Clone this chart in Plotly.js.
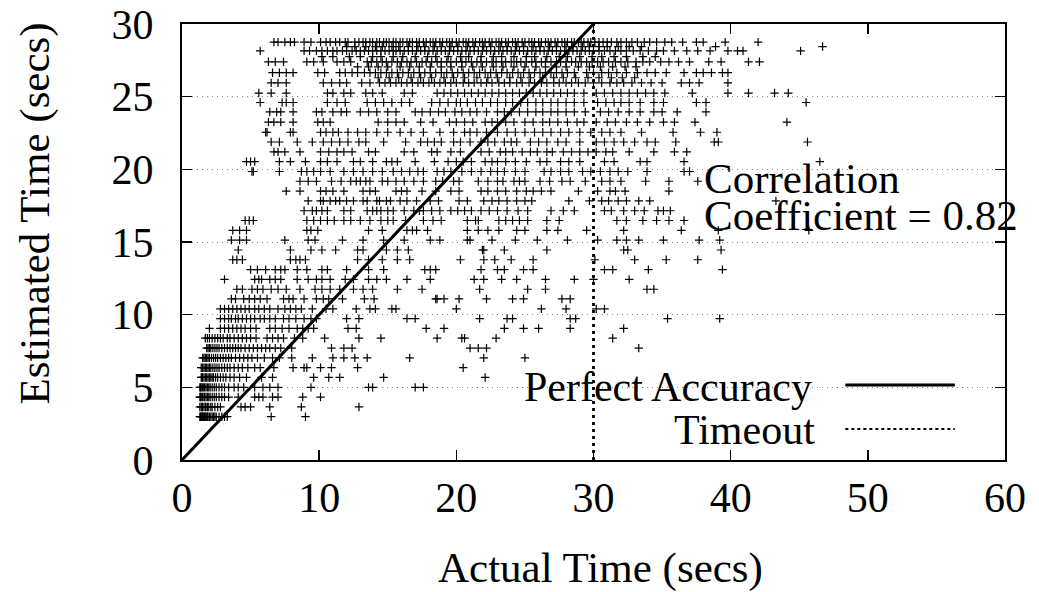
<!DOCTYPE html>
<html>
<head>
<meta charset="utf-8">
<script src="https://cdn.plot.ly/plotly-3.0.1.min.js"></script>
<style>
  html, body { margin: 0; padding: 0; background: #ffffff; }
  #chart { width: 1039px; height: 592px; }
</style>
</head>
<body>
<div id="chart"></div>
<script>
// Estimated run times (secs) come out on a discrete set of levels;
// each level lists the actual run times (secs) of the queries estimated at it.
const estimatedLevels = [
  2.98, 3.65, 4.33, 5.00, 5.68, 6.35, 7.03, 7.70, 8.38, 9.05,
  9.73, 10.40, 11.08, 11.75, 12.43, 13.10, 13.78, 14.45, 15.13, 15.80,
  16.48, 17.15, 17.83, 18.50, 19.18, 19.85, 20.53, 21.20, 21.88, 22.55,
  23.25, 23.95, 24.60, 25.25, 25.95, 26.30, 26.65, 27.05, 27.40, 27.75,
  28.15, 28.45, 28.75
];

const actualAtLevel = [
  /* 2.98 */ [1.3,1.35,1.4,1.45,1.5,1.55,1.6,1.65,1.7,1.8,1.85,1.9,2.0,2.1,2.2,2.3,2.4,2.5,2.7,2.9,3.1,3.3,6.5,9.0],
  /* 3.65 */ [1.3,1.4,1.45,1.5,1.6,1.7,1.75,1.85,1.95,2.1,2.2,2.4,2.6,2.8,4.3,4.6,5.0,6.4,8.7,12.9],
  /* 4.33 */ [1.3,1.35,1.4,1.5,1.6,1.65,1.75,1.85,1.95,2.05,2.2,2.35,2.5,2.7,2.9,3.1,3.4,4.1,5.3,5.6,5.9,6.6,7.0,8.8,10.1],
  /* 5.00 */ [1.3,1.35,1.4,1.5,1.55,1.65,1.75,1.85,1.95,2.05,2.2,2.35,2.5,2.7,2.9,3.1,3.4,3.8,4.1,4.5,5.3,5.9,6.4,7.0,9.4,13.6,13.9,17.0,17.6],
  /* 5.68 */ [1.4,1.45,1.5,1.6,1.7,1.8,1.9,2.0,2.1,2.2,2.3,2.45,2.6,2.8,3.0,3.2,3.5,3.8,4.2,4.7,5.8,6.6,9.6,10.7,11.5,14.7,22.1],
  /* 6.35 */ [1.4,1.5,1.6,1.7,1.8,1.9,2.0,2.1,2.25,2.4,2.55,2.7,2.9,3.1,3.3,3.5,3.8,4.1,4.4,4.8,5.3,5.7,6.7,8.1,8.9,9.1,10.1,10.9,12.8,20.5],
  /* 7.03 */ [1.5,1.6,1.7,1.8,1.9,2.0,2.15,2.3,2.45,2.6,2.8,3.0,3.2,3.4,3.6,3.9,4.2,4.5,4.8,5.1,5.5,6.0,6.6,7.1,8.0,9.5,11.0,11.8,12.6,13.5,16.6,22.0,25.0],
  /* 7.70 */ [1.8,1.9,2.0,2.1,2.25,2.4,2.55,2.7,2.9,3.1,3.3,3.5,3.7,3.9,4.1,4.3,4.6,4.9,5.2,5.5,5.8,6.1,6.4,6.8,7.2,8.0,10.9,11.8,12.4,21.0,21.6,22.2,33.3],
  /* 8.38 */ [1.7,1.85,2.0,2.2,2.4,2.6,2.8,3.0,3.3,3.5,3.8,4.1,4.4,4.7,5.0,5.4,6.2,6.6,7.0,7.4,8.2,8.8,10.4,12.9,14.5,18.6,20.4,20.6,22.9,31.4],
  /* 9.05 */ [2.0,2.8,3.1,3.4,3.7,4.0,4.3,4.6,5.0,5.4,6.4,6.8,7.3,7.8,8.4,8.8,9.2,9.6,12.1,12.7,17.8,19.1,23.5,24.9,26.0,28.3,32.2],
  /* 9.73 */ [2.8,3.1,3.4,3.6,3.9,4.1,4.4,4.7,5.0,5.3,5.7,6.0,6.4,6.8,7.4,7.8,8.3,8.9,9.4,9.8,12.0,12.9,16.4,17.0,21.7,23.7,24.1,28.3,28.7,35.4,39.2],
  /* 10.40 */ [2.8,3.1,3.4,3.7,4.0,4.3,4.6,4.9,5.3,5.6,6.0,6.4,7.0,7.5,7.9,8.3,8.7,9.5,10.5,11.0,12.7,13.7,14.1,15.3,15.6,20.0,26.2,28.0,30.2,30.8],
  /* 11.08 */ [3.6,3.9,4.5,4.9,5.3,5.7,6.2,7.4,7.8,8.1,8.9,9.8,10.3,10.7,11.7,13.3,14.0,18.5,18.6,19.1,20.2,22.2,24.1,24.9,27.7,28.3],
  /* 11.75 */ [4.0,4.4,5.1,5.5,5.9,6.5,7.0,7.6,8.6,9.7,10.2,10.8,11.5,12.5,13.2,13.9,15.7,17.5,21.7,25.2,26.5,33.9,34.4],
  /* 12.43 */ [3.1,5.3,5.6,5.8,6.4,6.8,7.2,8.4,9.2,9.8,10.2,10.8,11.9,12.5,13.6,14.2,14.9,16.4,18.1,21.3,22.0,23.3,24.4,26.5,28.6,30.0,32.6],
  /* 13.10 */ [5.0,5.5,6.1,6.8,7.2,7.5,8.4,9.1,10.2,10.6,12.0,13.6,14.7,17.7,18.1,18.5,21.8,23.0,23.5,24.9,25.6,30.8,31.4,34.0,39.4],
  /* 13.78 */ [3.7,4.0,4.4,7.9,8.3,8.6,9.0,12.8,13.6,14.6,15.7,16.6,20.3,22.0,22.8,24.0,25.6,30.1,33.0,35.3,37.6],
  /* 14.45 */ [4.1,7.9,9.4,10.2,11.2,12.8,13.2,14.9,15.7,16.5,21.9,22.0,23.5,26.6,32.2,32.5,39.3],
  /* 15.13 */ [3.6,4.2,4.7,7.5,9.2,9.7,11.7,13.2,14.7,16.2,18.1,18.8,20.8,21.0,22.6,24.3,25.9,28.1,30.3,31.7,32.4,33.3,35.1,37.7,39.2],
  /* 15.80 */ [3.7,4.2,4.7,9.1,9.4,9.9,13.6,14.6,16.4,16.8,17.1,17.9,20.8,21.6,22.3,23.1,24.4,25.0,26.6,27.4,29.5,32.2,36.4,39.1,45.7],
  /* 16.48 */ [4.6,4.9,5.2,9.1,9.6,10.1,10.6,11.1,11.8,12.3,13.0,13.7,14.5,15.0,15.4,16.3,17.6,18.3,18.9,20.8,21.4,21.6,23.1,23.6,24.1,24.6,25.2,26.6,27.5,31.7,32.4,33.6,34.6,35.5,36.6],
  /* 17.15 */ [8.9,9.5,9.8,10.2,10.6,11.8,12.3,13.5,13.9,14.2,14.5,15.0,15.4,16.2,16.9,17.3,17.6,18.2,18.8,19.6,20.1,20.6,21.1,21.8,22.4,23.0,23.7,24.5,25.2,26.9,27.8,28.6,30.8,31.3,32.2,33.0,33.7,34.7,35.1,35.6],
  /* 17.83 */ [9.2,10.1,10.3,10.8,11.2,11.5,12.0,12.5,13.2,13.5,14.2,14.4,14.9,15.2,15.9,16.4,17.1,18.1,18.7,20.2,20.8,22.0,22.6,23.1,23.7,24.4,25.0,25.5,28.2,29.7,30.6,31.1,31.8,32.4,33.3,34.1,43.3],
  /* 18.50 */ [7.6,8.6,10.1,10.5,11.0,11.8,13.2,13.7,14.1,15.6,16.0,16.4,17.5,18.5,19.6,20.2,21.8,22.3,23.0,23.6,24.4,25.1,25.6,26.2,26.9,28.9,30.3,31.2,31.6,32.3,35.5],
  /* 19.18 */ [8.6,9.2,9.8,10.9,11.6,12.3,12.7,13.0,13.4,13.7,14.6,15.0,15.6,16.2,16.9,17.6,18.5,19.0,19.8,20.2,21.6,22.3,23.0,23.4,24.2,24.6,25.0,26.1,26.8,27.7,28.3,29.4,30.6,31.2,32.0,33.8,35.5,37.6],
  /* 19.85 */ [5.1,5.2,7.1,8.7,9.1,9.6,10.1,10.8,11.8,12.5,13.2,13.9,14.6,15.4,16.0,16.6,17.2,17.6,18.6,19.1,19.6,20.4,21.1,21.8,22.5,23.0,23.5,24.3,25.0,26.4,26.9,27.6,28.2,29.2,29.8,30.5,31.2,31.8,32.5,33.9,36.6,37.0],
  /* 20.53 */ [4.7,5.0,5.3,7.1,7.9,9.0,10.1,10.6,11.3,12.5,13.0,13.9,14.9,15.3,15.7,17.0,18.4,19.4,20.0,20.5,21.1,22.1,22.6,23.0,23.6,24.3,25.1,26.1,26.6,27.6,28.2,29.0,30.8,31.5,33.4,33.9,36.6,46.5],
  /* 21.20 */ [6.7,7.0,7.5,8.6,10.1,10.7,11.3,11.8,12.4,13.6,14.1,16.2,16.9,18.2,18.6,19.6,20.3,21.8,22.4,23.2,23.6,24.1,24.8,25.4,25.9,26.6,27.0,27.8,28.4,29.0,29.6,30.2,30.9,31.4,32.6,34.4,35.9,36.8],
  /* 21.88 */ [6.5,7.1,8.4,9.5,10.3,10.9,11.5,12.1,12.9,13.4,14.7,16.3,17.4,17.9,18.4,18.9,19.8,20.3,21.0,21.8,22.3,22.8,23.5,24.0,24.4,25.4,26.0,26.6,27.4,28.0,29.0,30.2,30.8,31.5,32.2,33.0,33.9,34.5,36.0,38.8,39.1,45.6],
  /* 22.55 */ [6.1,6.2,7.9,8.1,10.1,10.5,11.0,11.4,12.1,12.8,13.4,14.2,15.0,15.9,16.7,17.6,18.8,19.8,20.6,21.0,21.5,22.2,23.0,23.7,24.3,25.0,25.7,26.3,26.9,27.6,28.2,29.0,29.8,30.6,31.2,32.0,33.5,35.8,37.8,39.0],
  /* 23.25 */ [6.3,6.7,7.2,8.1,9.9,10.3,10.8,14.3,15.0,15.6,16.2,17.4,18.3,19.5,20.0,20.6,21.2,22.1,22.6,23.0,23.6,24.2,25.0,25.6,26.3,26.8,27.4,28.1,28.8,29.3,30.2,31.0,31.6,32.4,33.2,34.1,35.1,35.9,37.4,44.1],
  /* 23.95 */ [6.4,6.9,7.2,8.1,9.8,10.2,11.0,11.6,12.0,13.0,13.6,14.2,15.0,15.6,17.0,17.5,18.1,18.7,19.2,19.9,20.4,21.0,21.5,22.2,23.0,23.5,24.0,24.6,25.2,25.8,26.3,26.9,27.4,28.0,28.6,29.4,30.5,31.1,31.8,32.6,33.4,34.4,35.0,36.1,38.2],
  /* 24.60 */ [5.7,7.3,7.6,8.1,10.6,11.3,11.9,13.5,14.1,14.7,15.3,16.0,16.6,18.2,18.8,19.4,20.0,20.3,20.8,21.4,21.9,22.5,23.0,23.6,24.1,24.7,25.2,25.8,26.3,26.9,27.4,28.0,28.6,29.3,30.3,30.9,31.5,32.0,32.6,33.4,34.4,35.1,37.5,38.2,45.5],
  /* 25.25 */ [5.6,6.5,7.6,10.6,11.0,11.8,12.3,13.4,13.9,14.6,16.2,16.8,18.6,19.1,19.6,20.1,20.6,21.1,21.6,22.1,22.6,23.1,23.6,24.1,24.6,25.1,25.6,26.1,26.6,27.1,27.6,28.1,28.6,29.3,30.2,30.8,31.4,32.0,32.6,33.2,33.8,34.4,35.2,37.2,39.8,41.3,43.2,44.2],
  /* 25.95 */ [6.5,7.0,7.6,10.3,10.9,11.5,12.0,13.1,13.7,14.4,14.8,15.2,15.6,16.0,16.4,16.8,17.2,17.6,18.0,18.4,18.8,19.2,19.6,20.0,20.5,20.9,21.3,21.8,22.2,22.6,23.1,23.5,23.9,24.4,24.8,25.3,25.7,26.2,26.6,27.1,27.5,28.0,28.4,28.9,29.4,30.0,30.6,31.2,31.7,32.2,32.8,33.5,34.2,35.0,36.4,37.0,37.7,39.8],
  /* 26.30 */ [14.3,15.1,15.8,16.7,17.4,18.2,19.1,19.8,20.6,21.5,22.3,23.0,23.9,24.7,25.4,26.3,27.1,27.8,28.7,29.6,30.4,31.3,32.1,33.0],
  /* 26.65 */ [6.6,7.1,7.6,8.1,9.9,10.4,11.5,11.9,12.4,12.8,13.3,13.7,14.1,14.5,14.9,15.3,15.7,16.1,16.5,16.9,17.3,17.7,18.1,18.5,18.9,19.3,19.7,20.1,20.5,20.9,21.3,21.7,22.1,22.5,22.9,23.3,23.7,24.1,24.5,24.9,25.3,25.7,26.1,26.5,26.9,27.3,27.7,28.1,28.6,29.5,30.0,30.6,31.1,31.7,32.4,33.2,33.9,34.5,35.3,36.6,37.5,38.0,38.6,39.4,39.8],
  /* 27.05 */ [12.8,13.6,14.3,15.0,15.9,16.6,17.3,18.1,18.9,19.6,20.4,21.2,21.9,22.7,23.4,24.2,25.0,25.8,26.5,27.3,28.0,28.9,29.7,30.5,31.4,32.3,33.1],
  /* 27.40 */ [6.3,6.8,7.4,9.1,9.6,10.3,11.3,11.8,12.3,13.5,13.8,14.2,14.6,14.9,15.3,15.7,16.0,16.4,16.7,17.1,17.5,17.8,18.2,18.6,18.9,19.3,19.6,20.0,20.4,20.7,21.1,21.5,21.8,22.2,22.6,22.9,23.3,23.6,24.0,24.4,24.7,25.1,25.5,25.8,26.2,26.5,26.9,27.3,27.6,28.0,28.4,28.7,29.1,29.5,29.9,30.3,30.7,31.1,31.6,32.0,32.5,33.1,33.6,34.1,34.9,35.5,36.2,37.0,38.4,39.3,41.3,42.1],
  /* 27.75 */ [10.2,11.0,12.2,13.0,13.9,14.5,15.4,16.1,17.0,17.9,18.5,19.4,20.3,20.9,21.8,22.7,23.3,24.2,25.1,25.7,26.6,27.5,28.1,29.0,29.9,30.6,31.5,32.4,33.6,34.5],
  /* 28.15 */ [5.7,8.9,9.3,9.8,10.2,10.6,11.0,11.3,11.7,12.0,12.4,12.7,13.0,13.3,13.6,13.9,14.2,14.5,14.8,15.1,15.4,15.6,15.9,16.2,16.5,16.8,17.1,17.4,17.7,18.0,18.3,18.6,18.9,19.2,19.5,19.8,20.1,20.4,20.7,21.0,21.3,21.6,21.9,22.2,22.5,22.8,23.1,23.4,23.7,24.0,24.3,24.6,24.9,25.2,25.5,25.8,26.1,26.4,26.7,27.0,27.3,27.6,27.9,28.2,28.5,28.8,29.1,29.4,29.7,30.0,30.4,30.8,31.2,31.6,32.0,32.4,32.9,33.4,34.0,34.6,35.1,35.9,36.8,37.6,38.5,39.8,40.5,40.9,45.1],
  /* 28.45 */ [12.0,12.6,13.4,14.1,14.6,15.3,15.8,16.5,17.2,17.7,18.4,18.9,19.6,20.1,20.8,21.3,22.0,22.5,23.2,23.7,24.4,24.9,25.6,26.1,26.8,27.3,28.0,28.5,29.2,29.7,30.4,31.0,31.8,32.6,33.5,38.9,46.7],
  /* 28.75 */ [6.7,7.0,7.5,7.9,8.2,8.9,9.4,10.1,10.5,10.8,11.2,11.5,11.9,12.1,12.6,12.9,13.2,13.4,13.7,13.9,14.2,14.4,14.7,14.9,15.1,15.4,15.6,15.9,16.1,16.4,16.6,16.8,17.1,17.3,17.6,17.8,18.1,18.3,18.5,18.8,19.0,19.3,19.5,19.7,20.0,20.2,20.5,20.7,20.9,21.2,21.4,21.7,21.9,22.1,22.4,22.6,22.9,23.1,23.3,23.6,23.8,24.1,24.3,24.5,24.8,25.0,25.3,25.5,25.7,26.0,26.2,26.5,26.7,26.9,27.2,27.4,27.7,27.9,28.1,28.4,28.6,28.9,29.1,29.3,29.6,29.8,30.1,30.4,30.7,31.0,31.3,31.7,32.0,32.4,32.8,33.2,33.7,34.1,34.6,35.2,35.7,36.5,37.5,38.0,39.6,42.0]
];

const xTickValues = [0, 10, 20, 30, 40, 50, 60];
const yTickValues = [0, 5, 10, 15, 20, 25, 30];

// Reference lines: estimate equal to actual, and the 30 s timeout.
const perfectActual = [0, 30];
const perfectEstimated = [0, 30];
const timeoutActual = [30, 30];
const timeoutEstimated = [0, 30];

const correlationCoefficient = 0.82;

// Flatten the per-level lists into point coordinates.
const actualTimes = [];
const estimatedTimes = [];
estimatedLevels.forEach((level, i) => {
  actualAtLevel[i].forEach(a => {
    actualTimes.push(a);
    estimatedTimes.push(level);
  });
});

const FONT = '"Liberation Serif", "Times New Roman", Times, serif';

const traces = [
  {
    type: 'scatter',
    mode: 'markers',
    x: actualTimes,
    y: estimatedTimes,
    marker: {
      symbol: 'cross-thin-open',
      size: 6,
      color: '#000000',
      line: { color: '#000000', width: 1.2 }
    },
    hoverinfo: 'x+y',
    showlegend: false
  },
  {
    type: 'scatter',
    mode: 'lines',
    x: perfectActual,
    y: perfectEstimated,
    line: { color: '#000000', width: 3 },
    showlegend: false
  },
  {
    type: 'scatter',
    mode: 'lines',
    x: timeoutActual,
    y: timeoutEstimated,
    line: { color: '#000000', width: 2.8, dash: '3px,4px' },
    showlegend: false
  }
];

const layout = {
  width: 1039,
  height: 592,
  margin: { l: 182, r: 34, t: 24, b: 132 },
  paper_bgcolor: '#ffffff',
  plot_bgcolor: '#ffffff',
  font: { family: FONT, size: 42, color: '#000000' },
  showlegend: false,
  xaxis: {
    range: [0, 60],
    tickvals: xTickValues,
    ticktext: xTickValues.map(String),
    ticks: 'inside',
    ticklen: 10,
    tickwidth: 1.5,
    tickcolor: '#000000',
    showline: true,
    linewidth: 2,
    linecolor: '#000000',
    mirror: 'ticks',
    showgrid: false,
    zeroline: false,
    ticklabelstandoff: 0,
    tickfont: { family: FONT, size: 42, color: '#000000' }
  },
  yaxis: {
    range: [0, 30],
    tickvals: yTickValues,
    ticktext: yTickValues.map(String),
    ticks: 'inside',
    ticklen: 10,
    tickwidth: 1.5,
    tickcolor: '#000000',
    showline: true,
    linewidth: 2,
    linecolor: '#000000',
    mirror: 'ticks',
    showgrid: true,
    gridcolor: '#8a8a8a',
    gridwidth: 1,
    griddash: '1px,4px',
    zeroline: false,
    ticklabelstandoff: 18,
    tickfont: { family: FONT, size: 42, color: '#000000' }
  },
  annotations: [
    {
      xref: 'paper', yref: 'paper', x: 0.508, y: -0.247,
      text: 'Actual Time (secs)', showarrow: false,
      xanchor: 'center', yanchor: 'middle',
      font: { family: FONT, size: 43 }
    },
    {
      xref: 'paper', yref: 'paper', x: -0.178, y: 0.564,
      text: 'Estimated Time (secs)', showarrow: false, textangle: -90,
      xanchor: 'center', yanchor: 'middle',
      font: { family: FONT, size: 43 }
    },
    {
      xref: 'paper', yref: 'paper', x: 0.632, y: 0.645,
      text: 'Correlation', showarrow: false,
      xanchor: 'left', yanchor: 'middle',
      font: { family: FONT, size: 43 }
    },
    {
      xref: 'paper', yref: 'paper', x: 0.632, y: 0.560,
      text: 'Coefficient = ' + correlationCoefficient.toFixed(2), showarrow: false,
      xanchor: 'left', yanchor: 'middle',
      font: { family: FONT, size: 43 }
    },
    {
      xref: 'paper', yref: 'paper', x: 0.768, y: 0.167,
      text: 'Perfect Accuracy', showarrow: false,
      xanchor: 'right', yanchor: 'middle',
      font: { family: FONT, size: 42 }
    },
    {
      xref: 'paper', yref: 'paper', x: 0.771, y: 0.069,
      text: 'Timeout', showarrow: false,
      xanchor: 'right', yanchor: 'middle',
      font: { family: FONT, size: 42 }
    }
  ],
  shapes: [
    {
      type: 'line', xref: 'paper', yref: 'paper',
      x0: 0.806, x1: 0.939, y0: 0.172, y1: 0.172,
      line: { color: '#000000', width: 2.8 }
    },
    {
      type: 'line', xref: 'paper', yref: 'paper',
      x0: 0.806, x1: 0.939, y0: 0.071, y1: 0.071,
      line: { color: '#000000', width: 2, dash: '3px,3px' }
    }
  ]
};

Plotly.newPlot('chart', traces, layout, { displayModeBar: false, staticPlot: true });
</script>
</body>
</html>
